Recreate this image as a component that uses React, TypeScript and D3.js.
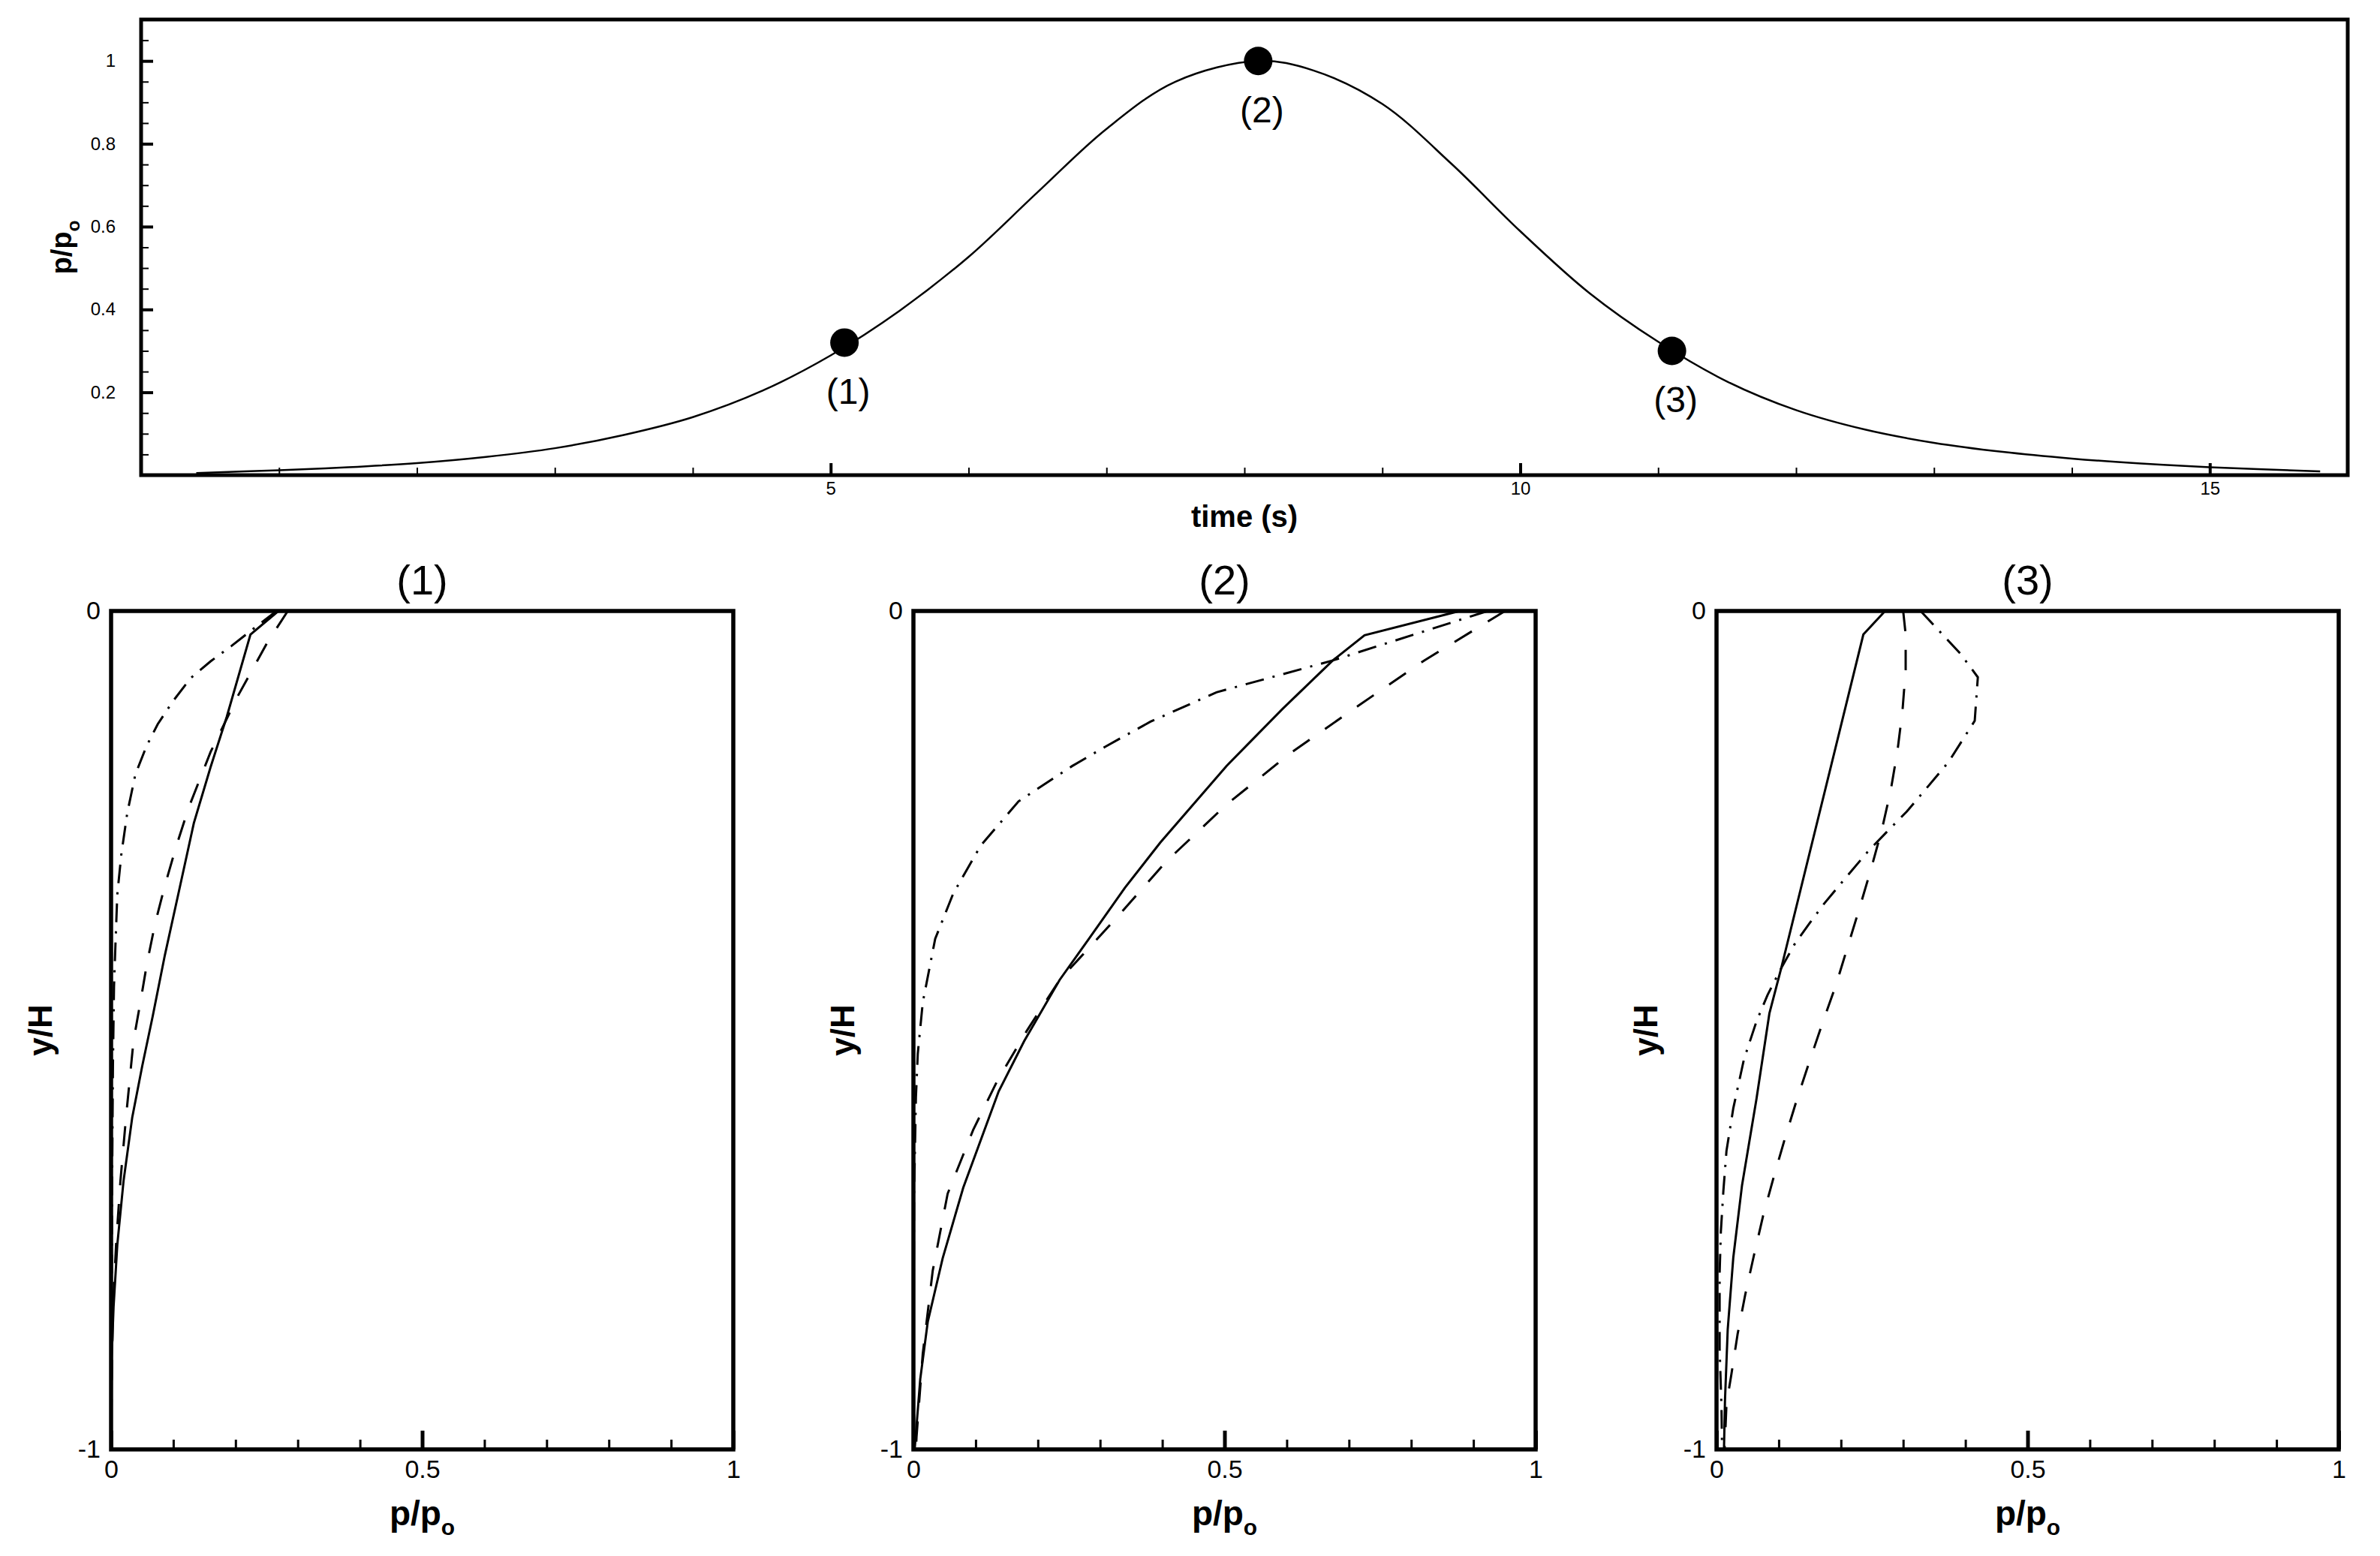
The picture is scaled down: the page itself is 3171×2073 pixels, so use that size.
import React, { useEffect, useRef } from 'react';
import * as d3 from 'd3';

// surface pressure history
const timeSec = [0.4, 1, 1.5, 2, 2.5, 3, 3.5, 4, 4.5, 5, 5.5, 6, 6.5, 7, 7.5, 8.1, 8.5, 9, 9.5, 10, 10.5, 11, 11.5, 12, 12.5, 13, 13.5, 14, 14.5, 15, 15.8];
const pressureRatio = [0.005, 0.012, 0.019, 0.029, 0.044, 0.065, 0.097, 0.14, 0.203, 0.289, 0.397, 0.527, 0.683, 0.836, 0.95, 1.0, 0.977, 0.896, 0.752, 0.589, 0.44, 0.322, 0.226, 0.157, 0.11, 0.078, 0.056, 0.04, 0.028, 0.019, 0.009];

const markerTime = [5.1, 8.1, 11.1];
const markerPressure = [0.32, 1.0, 0.3];
const markerLabels = ['(1)', '(2)', '(3)'];

const timeMajorTicks = [5, 10, 15];
const timeMinorTicks = [1, 2, 3, 4, 6, 7, 8, 9, 11, 12, 13, 14];
const pressureMajorTicks = [0.2, 0.4, 0.6, 0.8, 1];
const pressureMinorTicks = [0.05, 0.1, 0.15, 0.25, 0.3, 0.35, 0.45, 0.5, 0.55, 0.65, 0.7, 0.75, 0.85, 0.9, 0.95, 1.05];

// depth profiles, pairs of [p/p0, y/H]
const profile1Solid = [[0.269, 0], [0.224, -0.028], [0.186, -0.126], [0.16, -0.186], [0.133, -0.253], [0.11, -0.331], [0.086, -0.412], [0.067, -0.483], [0.05, -0.543], [0.034, -0.604], [0.02, -0.68], [0.01, -0.756], [0.004, -0.83], [0.001, -0.89], [0, -1]];
const profile1Dashed = [[0.284, 0], [0.25, -0.039], [0.236, -0.058], [0.204, -0.101], [0.16, -0.168], [0.125, -0.234], [0.105, -0.28], [0.087, -0.326], [0.071, -0.372], [0.058, -0.419], [0.047, -0.467], [0.036, -0.513], [0.024, -0.604], [0.015, -0.68], [0.008, -0.756], [0.003, -0.83], [0.001, -0.92], [0, -1]];
const profile1DashDot = [[0.266, 0], [0.229, -0.021], [0.193, -0.042], [0.16, -0.06], [0.128, -0.08], [0.099, -0.108], [0.075, -0.135], [0.057, -0.161], [0.039, -0.195], [0.026, -0.241], [0.0165, -0.29], [0.01, -0.338], [0.007, -0.398], [0.0047, -0.448], [0.003, -0.54], [0.0015, -0.7], [0, -1]];

const profile2Solid = [[0.878, 0], [0.725, -0.029], [0.674, -0.059], [0.593, -0.117], [0.503, -0.185], [0.397, -0.276], [0.34, -0.33], [0.283, -0.39], [0.235, -0.44], [0.178, -0.513], [0.137, -0.573], [0.08, -0.688], [0.047, -0.772], [0.023, -0.848], [0.011, -0.916], [0.002, -1]];
const profile2Dashed = [[0.951, 0], [0.821, -0.059], [0.715, -0.113], [0.605, -0.17], [0.503, -0.231], [0.406, -0.299], [0.324, -0.368], [0.235, -0.44], [0.182, -0.501], [0.135, -0.56], [0.096, -0.619], [0.055, -0.695], [0.031, -0.787], [0.015, -0.886], [0.005, -0.985], [0.004, -1]];
const profile2DashDot = [[0.923, 0], [0.674, -0.059], [0.487, -0.097], [0.381, -0.132], [0.308, -0.162], [0.255, -0.185], [0.169, -0.227], [0.108, -0.28], [0.064, -0.337], [0.035, -0.391], [0.015, -0.467], [0.007, -0.528], [0.004, -0.58], [0.001, -0.7], [0, -1]];

const profile3Solid = [[0.271, 0], [0.236, -0.028], [0.191, -0.164], [0.104, -0.426], [0.085, -0.48], [0.064, -0.583], [0.041, -0.685], [0.027, -0.771], [0.018, -0.857], [0.0136, -0.942], [0.012, -1]];
const profile3Dashed = [[0.3, 0], [0.304, -0.028], [0.304, -0.07], [0.299, -0.118], [0.291, -0.166], [0.28, -0.214], [0.266, -0.26], [0.249, -0.306], [0.23, -0.354], [0.211, -0.4], [0.192, -0.446], [0.171, -0.49], [0.15, -0.536], [0.129, -0.583], [0.11, -0.629], [0.092, -0.675], [0.075, -0.721], [0.06, -0.769], [0.046, -0.816], [0.034, -0.862], [0.024, -0.91], [0.016, -0.946], [0.013, -1]];
const profile3DashDot = [[0.328, 0], [0.392, -0.051], [0.42, -0.079], [0.415, -0.131], [0.373, -0.18], [0.33, -0.218], [0.306, -0.239], [0.273, -0.264], [0.242, -0.288], [0.201, -0.324], [0.173, -0.349], [0.149, -0.373], [0.125, -0.398], [0.104, -0.426], [0.082, -0.458], [0.064, -0.49], [0.044, -0.535], [0.027, -0.593], [0.016, -0.644], [0.011, -0.692], [0.007, -0.74], [0.005, -0.79], [0.005, -0.88], [0.008, -0.95], [0.009, -1]];

const profileTitles = ['(1)', '(2)', '(3)'];
const profileMajorTicks = [0, 0.5, 1];
const profileMinorTicks = [0.1, 0.2, 0.3, 0.4, 0.6, 0.7, 0.8, 0.9];
const depthTicks = [-1, 0];

const FONT = "'Liberation Sans', Arial, Helvetica, sans-serif";

const styleAxis = (g: any, tickWidth: number, fontSize: number) => {
    g.select('.domain').remove();
    g.selectAll('line').attr('stroke', '#000').attr('stroke-width', tickWidth);
    g.attr('font-family', FONT).attr('font-size', fontSize);
    g.selectAll('text').attr('fill', '#000');
};

const drawHistory = (svg: any) => {
    const left = 188, right = 3128, top = 26, bottom = 633;
    const x = d3.scaleLinear().domain([0, 16]).range([left, right]);
    const y = d3.scaleLinear().domain([0, 1.1]).range([bottom, top]);
    const g = svg.append('g');

    g.append('g')
        .attr('transform', `translate(0,${bottom})`)
        .call(d3.axisBottom(x).tickValues(timeMinorTicks).tickSize(-10).tickFormat(() => ''))
        .call((a: any) => styleAxis(a, 2, 24));
    g.append('g')
        .attr('transform', `translate(0,${bottom})`)
        .call(d3.axisBottom(x).tickValues(timeMajorTicks).tickSize(-16).tickPadding(9).tickFormat((d: any) => String(d)))
        .call((a: any) => styleAxis(a, 4, 24));
    g.append('g')
        .attr('transform', `translate(${left},0)`)
        .call(d3.axisLeft(y).tickValues(pressureMinorTicks).tickSize(-10).tickFormat(() => ''))
        .call((a: any) => styleAxis(a, 2, 24));
    g.append('g')
        .attr('transform', `translate(${left},0)`)
        .call(d3.axisLeft(y).tickValues(pressureMajorTicks).tickSize(-16).tickPadding(34).tickFormat((d: any) => String(d)))
        .call((a: any) => styleAxis(a, 4, 24));

    const line = d3.line<number>()
        .x((_, i) => x(timeSec[i]))
        .y(d => y(d))
        .curve(d3.curveCatmullRom.alpha(0.5));
    g.append('path')
        .datum(pressureRatio)
        .attr('fill', 'none')
        .attr('stroke', '#000')
        .attr('stroke-width', 2.5)
        .attr('d', line);

    g.append('rect')
        .attr('x', left).attr('y', top)
        .attr('width', right - left).attr('height', bottom - top)
        .attr('fill', 'none').attr('stroke', '#000').attr('stroke-width', 5);

    markerTime.forEach((t, i) => {
        g.append('circle')
            .attr('cx', x(t)).attr('cy', y(markerPressure[i]))
            .attr('r', 19).attr('fill', '#000');
        g.append('text')
            .attr('x', x(t) + 5).attr('y', y(markerPressure[i]) + 82)
            .attr('text-anchor', 'middle')
            .attr('font-family', FONT).attr('font-size', 48)
            .text(markerLabels[i]);
    });

    g.append('text')
        .attr('x', (left + right) / 2).attr('y', 702)
        .attr('text-anchor', 'middle')
        .attr('font-family', FONT).attr('font-size', 40).attr('font-weight', 'bold')
        .text('time (s)');

    const yTitle = g.append('text')
        .attr('transform', `translate(95,${(top + bottom) / 2}) rotate(-90)`)
        .attr('text-anchor', 'middle')
        .attr('font-family', FONT).attr('font-size', 38).attr('font-weight', 'bold');
    yTitle.append('tspan').text('p/p');
    yTitle.append('tspan').attr('font-size', '65%').attr('dy', '0.45em').text('o');
};

const profiles = [
    [profile1Solid, profile1Dashed, profile1DashDot],
    [profile2Solid, profile2Dashed, profile2DashDot],
    [profile3Solid, profile3Dashed, profile3DashDot],
];
const panelLeft = [148, 1217, 2287];
const dashes = [null, '27 25', '25 12 3 12'];

const drawProfile = (svg: any, idx: number) => {
    const left = panelLeft[idx], right = left + 829, top = 814, bottom = 1931;
    const x = d3.scaleLinear().domain([0, 1]).range([left, right]);
    const y = d3.scaleLinear().domain([-1, 0]).range([bottom, top]);
    const g = svg.append('g');

    g.append('g')
        .attr('transform', `translate(0,${bottom})`)
        .call(d3.axisBottom(x).tickValues(profileMinorTicks).tickSize(-13).tickFormat(() => ''))
        .call((a: any) => styleAxis(a, 3, 34));
    g.append('g')
        .attr('transform', `translate(0,${bottom})`)
        .call(d3.axisBottom(x).tickValues(profileMajorTicks).tickSize(-25).tickPadding(14).tickFormat((d: any) => String(d)))
        .call((a: any) => styleAxis(a, 5, 34));
    g.append('g')
        .attr('transform', `translate(${left},0)`)
        .call(d3.axisLeft(y).tickValues(depthTicks).tickSize(0).tickPadding(14).tickFormat((d: any) => String(d)))
        .call((a: any) => styleAxis(a, 0, 34));

    const line = d3.line<number[]>()
        .x(d => x(d[0]))
        .y(d => y(d[1]));
    profiles[idx].forEach((series, k) => {
        const path = g.append('path')
            .datum(series)
            .attr('fill', 'none')
            .attr('stroke', '#000')
            .attr('stroke-width', 3)
            .attr('d', line);
        if (dashes[k]) path.attr('stroke-dasharray', dashes[k]);
    });

    g.append('rect')
        .attr('x', left).attr('y', top)
        .attr('width', right - left).attr('height', bottom - top)
        .attr('fill', 'none').attr('stroke', '#000').attr('stroke-width', 5.5);

    g.append('text')
        .attr('x', (left + right) / 2).attr('y', 792)
        .attr('text-anchor', 'middle')
        .attr('font-family', FONT).attr('font-size', 56)
        .text(profileTitles[idx]);

    const xTitle = g.append('text')
        .attr('x', (left + right) / 2).attr('y', 2032)
        .attr('text-anchor', 'middle')
        .attr('font-family', FONT).attr('font-size', 46).attr('font-weight', 'bold');
    xTitle.append('tspan').text('p/p');
    xTitle.append('tspan').attr('font-size', '65%').attr('dy', '0.45em').text('o');

    g.append('text')
        .attr('transform', `translate(${left - 79},${(top + bottom) / 2}) rotate(-90)`)
        .attr('text-anchor', 'middle')
        .attr('font-family', FONT).attr('font-size', 44).attr('font-weight', 'bold')
        .text('y/H');
};

export default function App() {
    const ref = useRef<SVGSVGElement>(null);

    useEffect(() => {
        if (!ref.current) return;
        const svg = d3.select(ref.current);
        svg.selectAll('*').remove();
        drawHistory(svg);
        profiles.forEach((_, i) => drawProfile(svg, i));
    }, []);

    return (
        <svg
            ref={ref}
            width={3171}
            height={2073}
            style={{ position: 'absolute', left: 0, top: 0, background: '#fff' }}
        />
    );
}
